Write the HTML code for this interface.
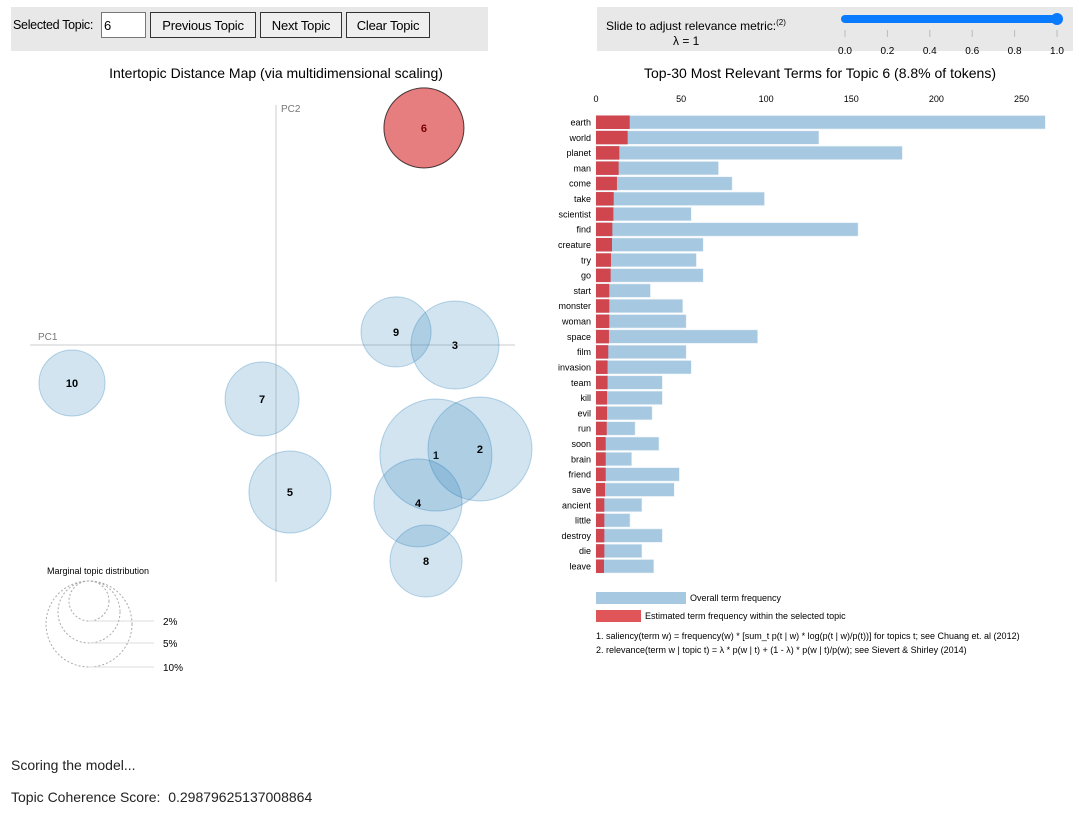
<!DOCTYPE html>
<html><head><meta charset="utf-8"><style>
body{margin:0;background:#fff;font-family:"Liberation Sans",Arial,sans-serif;}
#root{position:relative;width:1084px;height:815px;overflow:hidden;}
.btn{position:absolute;top:12px;height:26px;border:1px solid #333;background:#efefef;font-size:13px;font-family:"Liberation Sans",sans-serif;padding:0;box-sizing:border-box;letter-spacing:-0.2px}
</style></head><body><div id="root">
<div style="position:absolute;left:11px;top:7px;width:477px;height:44px;background:#e8e8e8"></div>
<div style="position:absolute;left:13px;top:18px;font-size:12.5px;letter-spacing:-0.3px">Selected Topic:</div>
<input value="6" style="position:absolute;left:101px;top:12px;width:45px;height:26px;box-sizing:border-box;border:1px solid #777;font-size:13px;padding:0 2px;font-family:'Liberation Sans',sans-serif">
<button class="btn" style="left:150px;width:106px">Previous Topic</button>
<button class="btn" style="left:260px;width:82px">Next Topic</button>
<button class="btn" style="left:346px;width:84px">Clear Topic</button>
<div style="position:absolute;left:597px;top:7px;width:476px;height:44px;background:#e8e8e8"></div>
<div style="position:absolute;left:606px;top:18px;font-size:12px">Slide to adjust relevance metric:<sup style="font-size:8px">(2)</sup></div>
<div style="position:absolute;left:673px;top:34px;font-size:12px">λ = 1</div>
<svg id="sv" width="1084" height="815" style="position:absolute;left:0;top:0"></svg>
<div style="position:absolute;left:11px;top:757px;font-size:14px;color:#222">Scoring the model...</div>
<div style="position:absolute;left:11px;top:789px;font-size:14px;color:#222">Topic Coherence Score:&nbsp; 0.29879625137008864</div>
</div>
<script>
const terms=["earth","world","planet","man","come","take","scientist","find","creature","try","go","start","monster","woman","space","film","invasion","team","kill","evil","run","soon","brain","friend","save","ancient","little","destroy","die","leave"];
const overall=[264,131,180,72,80,99,56,154,63,59,63,32,51,53,95,53,56,39,39,33,23,37,21,49,46,27,20,39,27,34];
const topicFreq=[19.8,18.6,13.7,13.3,12.3,10.4,10.2,9.6,9.4,8.8,8.6,7.8,7.8,7.8,7.6,7.2,6.8,6.8,6.5,6.5,6.3,5.7,5.7,5.7,5.3,4.9,4.9,4.9,4.9,4.7];
const xTicks=[0,50,100,150,200,250];
const topicIds=[1,2,3,4,5,6,7,8,9,10];
const pc1=[0.1159,0.1478,0.1297,0.1029,0.0101,0.1072,-0.0101,0.1087,0.0870,-0.1478];
const pc2=[-0.0724,-0.0684,0,-0.1039,-0.0967,0.1428,-0.0355,-0.1421,0.0086,-0.025];
const sizes=[9.26,7.99,5.72,5.72,4.97,4.73,4.04,3.83,3.62,3.22];
const sliderTicks=["0.0","0.2","0.4","0.6","0.8","1.0"];
const lambda=1;

const S=document.getElementById('sv');const NS='http://www.w3.org/2000/svg';
function mk(t,a,txt){const e=document.createElementNS(NS,t);for(const k in a)e.setAttribute(k,a[k]);if(txt!=null)e.textContent=txt;S.appendChild(e);return e;}
const sx=v=>845+v*212;
let e=mk('line',{x1:sx(0),y1:19,x2:sx(lambda),y2:19,stroke:'#0a7bff','stroke-width':8,'stroke-linecap':'round'});

e=mk('circle',{cx:sx(lambda),cy:19,r:6,fill:'#0a7bff'});

sliderTicks.forEach((t,i)=>{const x=845+i*42.4;
 e=mk('line',{x1:x,y1:30,x2:x,y2:37,stroke:'#bbb'});
 e=mk('text',{x:x,y:54,'font-size':10,'text-anchor':'middle',fill:'#000'},t);});
e=mk('text',{x:276,y:78,'font-size':14,'text-anchor':'middle'},'Intertopic Distance Map (via multidimensional scaling)');
e=mk('text',{x:820,y:78,'font-size':14,'text-anchor':'middle'},'Top-30 Most Relevant Terms for Topic 6 (8.8% of tokens)');
const mx=v=>276+v*1380, my=v=>345-v*1520;
e=mk('line',{x1:30,y1:345,x2:515,y2:345,stroke:'#ccc'});
e=mk('line',{x1:276,y1:105,x2:276,y2:582,stroke:'#ccc'});
e=mk('text',{x:38,y:340,'font-size':10,fill:'#777'},'PC1');
e=mk('text',{x:281,y:112,'font-size':10,fill:'#777'},'PC2');
const rOf=s=>Math.sqrt(s)*18.4;
topicIds.forEach((id,i)=>{const sel=id===6;
 e=mk('circle',{cx:mx(pc1[i]),cy:my(pc2[i]),r:rOf(sizes[i]),fill:sel?'#d62728':'#1f77b4','fill-opacity':sel?0.6:0.2,stroke:sel?'#000':'#1f77b4','stroke-opacity':sel?0.7:0.3,'stroke-width':1});
 
 e=mk('text',{x:mx(pc1[i]),y:my(pc2[i])+4,'font-size':11,'font-weight':'bold','text-anchor':'middle',fill:sel?'#700':'#000'},id);
 });
e=mk('text',{x:47,y:574,'font-size':9},'Marginal topic distribution');
[[2,621,20],[5,643,31],[10,667,43]].forEach(([p,y,r])=>{
 e=mk('circle',{cx:89,cy:y-r,r:r,fill:'none',stroke:'#aaa','stroke-dasharray':'2 2'});
 e=mk('line',{x1:89,y1:y,x2:154,y2:y,stroke:'#ddd'});
 e=mk('text',{x:163,y:y+4,'font-size':10},p+'%');});
const bx=v=>596+v*1.702, by=i=>115.5+i*15.31;
xTicks.forEach(t=>{e=mk('text',{x:bx(t),y:102,'font-size':9,'text-anchor':'middle'},t);});
terms.forEach((t,i)=>{
 e=mk('rect',{x:bx(0),y:by(i),width:bx(overall[i])-bx(0),height:13.5,fill:'#a6c8e0',stroke:'#eaf2f8','stroke-width':0.6});
 e=mk('rect',{x:bx(0),y:by(i),width:bx(topicFreq[i])-bx(0),height:13.5,fill:'#d0464f'});
 e=mk('text',{x:591,y:by(i)+10,'font-size':9,'text-anchor':'end'},t);});
e=mk('rect',{x:596,y:592,width:90,height:12,fill:'#a6c8e0'});
e=mk('text',{x:690,y:601,'font-size':9},'Overall term frequency');
e=mk('rect',{x:596,y:610,width:45,height:12,fill:'#e05658'});
e=mk('text',{x:645,y:619,'font-size':9},'Estimated term frequency within the selected topic');
e=mk('text',{x:596,y:639,'font-size':9},'1. saliency(term w) = frequency(w) * [sum_t p(t | w) * log(p(t | w)/p(t))] for topics t; see Chuang et. al (2012)');
e=mk('text',{x:596,y:653,'font-size':9},'2. relevance(term w | topic t) = λ * p(w | t) + (1 - λ) * p(w | t)/p(w); see Sievert & Shirley (2014)');
</script></body></html>
